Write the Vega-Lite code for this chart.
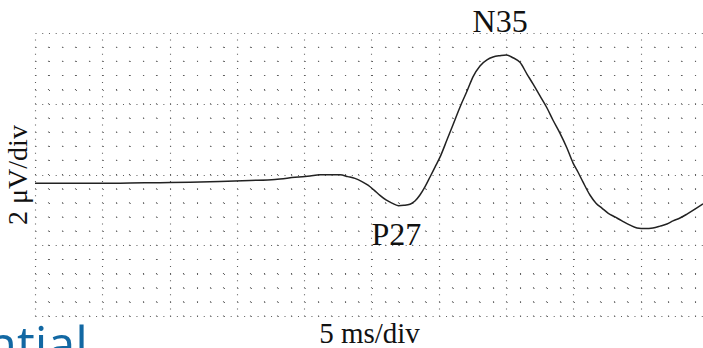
{
  "$schema": "https://vega.github.io/schema/vega-lite/v6.json",
  "description": "Evoked potential trace on an oscilloscope-style graticule (5 ms/div, 2 uV/div), negative up.",
  "width": 668,
  "height": 283,
  "autosize": {"type": "none"},
  "padding": {"left": 35, "top": 33, "right": 0, "bottom": 32},
  "background": "white",
  "config": {"view": {"stroke": null}},
  "datasets": {
    "sep": [
      {"t": 0, "v": 0.25}, {"t": 2.6, "v": 0.25}, {"t": 4.83, "v": 0.25}, {"t": 7.06, "v": 0.24},
      {"t": 9.29, "v": 0.23}, {"t": 11.52, "v": 0.22}, {"t": 13.74, "v": 0.2}, {"t": 15.97, "v": 0.17},
      {"t": 17.83, "v": 0.14}, {"t": 19.32, "v": 0.08}, {"t": 20.43, "v": 0.04}, {"t": 21.17, "v": 0.01},
      {"t": 21.92, "v": 0.01}, {"t": 22.66, "v": 0.01}, {"t": 23.25, "v": 0.06}, {"t": 23.77, "v": 0.11},
      {"t": 24.29, "v": 0.2}, {"t": 24.74, "v": 0.3}, {"t": 25.19, "v": 0.44}, {"t": 25.63, "v": 0.59},
      {"t": 26.08, "v": 0.72}, {"t": 26.52, "v": 0.81}, {"t": 27.0, "v": 0.88}, {"t": 27.41, "v": 0.87},
      {"t": 27.86, "v": 0.84}, {"t": 28.23, "v": 0.75}, {"t": 28.6, "v": 0.58}, {"t": 28.97, "v": 0.35},
      {"t": 29.35, "v": 0.07}, {"t": 29.72, "v": -0.21}, {"t": 30.09, "v": -0.49}, {"t": 30.61, "v": -0.98},
      {"t": 31.05, "v": -1.4}, {"t": 31.58, "v": -1.91}, {"t": 32.1, "v": -2.36}, {"t": 32.54, "v": -2.76},
      {"t": 33.06, "v": -3.07}, {"t": 33.58, "v": -3.24}, {"t": 34.03, "v": -3.32}, {"t": 34.55, "v": -3.36},
      {"t": 35.0, "v": -3.38}, {"t": 35.51, "v": -3.3}, {"t": 36.03, "v": -3.17}, {"t": 36.55, "v": -2.84},
      {"t": 37.0, "v": -2.56}, {"t": 37.52, "v": -2.22}, {"t": 38.04, "v": -1.88}, {"t": 38.48, "v": -1.54},
      {"t": 39.0, "v": -1.17}, {"t": 39.52, "v": -0.75}, {"t": 39.97, "v": -0.33}, {"t": 40.34, "v": -0.07},
      {"t": 40.71, "v": 0.21}, {"t": 41.23, "v": 0.58}, {"t": 41.68, "v": 0.81}, {"t": 42.12, "v": 0.95},
      {"t": 42.57, "v": 1.09}, {"t": 43.09, "v": 1.2}, {"t": 43.61, "v": 1.31}, {"t": 44.21, "v": 1.43},
      {"t": 44.73, "v": 1.51}, {"t": 45.32, "v": 1.53}, {"t": 45.91, "v": 1.51}, {"t": 46.43, "v": 1.46},
      {"t": 46.95, "v": 1.4}, {"t": 47.4, "v": 1.31}, {"t": 47.92, "v": 1.23}, {"t": 48.44, "v": 1.12},
      {"t": 49.03, "v": 0.98}, {"t": 49.63, "v": 0.83}
    ],
    "peaks": [
      {"t": 35, "v": -3.38, "label": "N35"},
      {"t": 27, "v": 0.88, "label": "P27"}
    ],
    "caption": [
      {"t": -3.62, "v": 5.3, "label": "ntial"}
    ]
  },
  "encoding": {
    "x": {
      "field": "t",
      "type": "quantitative",
      "scale": {"domain": [0, 49.63], "nice": false, "zero": false},
      "axis": {
        "values": [0,1,2,3,4,5,6,7,8,9,10,11,12,13,14,15,16,17,18,19,20,21,22,23,24,25,26,27,28,29,30,31,32,33,34,35,36,37,38,39,40,41,42,43,44,45,46,47,48,49],
        "labels": false,
        "ticks": false,
        "domain": false,
        "grid": true,
        "gridColor": "#5e5e5e",
        "gridWidth": 1.1,
        "gridDash": {"condition": {"test": "datum.value % 5 === 0", "value": [1, 6.075]}, "value": [1, 13.15]},
        "title": "5 ms/div",
        "titleFont": "Liberation Serif",
        "titleFontSize": 29,
        "titleFontWeight": "normal",
        "titleColor": "#111111",
        "titlePadding": 3
      }
    },
    "y": {
      "field": "v",
      "type": "quantitative",
      "scale": {"domain": [-4, 4], "reverse": true, "nice": false, "zero": false},
      "axis": {
        "values": [-4,-3.6,-3.2,-2.8,-2.4,-2,-1.6,-1.2,-0.8,-0.4,0,0.4,0.8,1.2,1.6,2,2.4,2.8,3.2,3.6,4],
        "labels": false,
        "ticks": false,
        "domain": false,
        "grid": true,
        "gridColor": "#5e5e5e",
        "gridWidth": 1.1,
        "gridDash": {"condition": {"test": "abs(datum.value % 2) < 0.01", "value": [1, 5.73]}, "value": [1, 12.46]},
        "title": "2 μV/div",
        "titleFont": "Liberation Serif",
        "titleFontSize": 28,
        "titleFontWeight": "normal",
        "titleColor": "#111111",
        "titlePadding": 3
      }
    }
  },
  "layer": [
    {
      "data": {"name": "sep"},
      "mark": {"type": "line", "interpolate": "monotone", "color": "#222222", "strokeWidth": 1.5}
    },
    {
      "data": {"name": "peaks"},
      "transform": [{"filter": "datum.label === 'N35'"}],
      "mark": {"type": "text", "font": "Liberation Serif", "fontSize": 32, "color": "#111111", "baseline": "alphabetic", "align": "center", "dx": -6, "dy": -23},
      "encoding": {"text": {"field": "label", "type": "nominal"}}
    },
    {
      "data": {"name": "peaks"},
      "transform": [{"filter": "datum.label === 'P27'"}],
      "mark": {"type": "text", "font": "Liberation Serif", "fontSize": 32, "color": "#111111", "baseline": "alphabetic", "align": "center", "dx": -2, "dy": 39},
      "encoding": {"text": {"field": "label", "type": "nominal"}}
    },
    {
      "data": {"name": "caption"},
      "mark": {"type": "text", "font": "Open Sans", "fontSize": 50, "color": "#1268a3", "baseline": "alphabetic", "align": "left", "clip": false},
      "encoding": {"text": {"field": "label", "type": "nominal"}}
    }
  ]
}
